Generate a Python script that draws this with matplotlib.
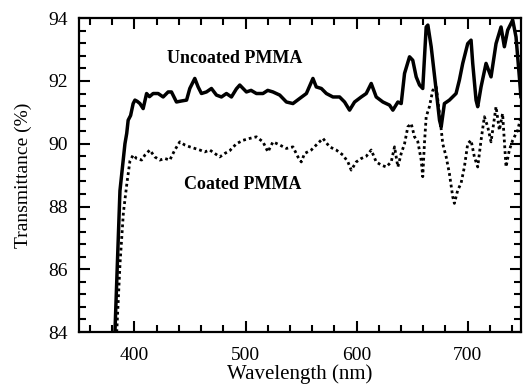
import matplotlib
matplotlib.use("Agg")
import matplotlib.pyplot as plt
from matplotlib.ticker import MultipleLocator

plt.rcParams['font.family'] = ['Liberation Serif', 'DejaVu Serif']

wl_uncoated = [382.4, 386.9, 391.4, 393.0, 394.3, 396.5, 398.8, 400.4, 402.5, 404.9,
               407.8, 410.9, 413.5, 416.8, 421.3, 425.8, 430.3, 433.3, 437.8, 442.0,
               446.9, 449.8, 454.3, 457.3, 460.3, 464.8, 469.3, 473.8, 478.3, 482.8,
               487.3, 491.8, 494.8, 500.8, 505.0, 509.8, 515.7, 520.0, 524.7, 530.8,
               536.8, 542.7, 548.7, 554.8, 560.7, 563.7, 568.3, 572.8, 578.7, 584.7,
               589.2, 593.7, 598.2, 604.2, 608.7, 613.2, 617.7, 623.7, 629.7, 632.7,
               637.2, 640.2, 643.2, 647.7, 650.6, 653.7, 656.7, 659.6, 662.7, 664.2,
               667.2, 671.7, 674.7, 676.2, 679.1, 683.6, 689.6, 692.6, 695.6, 700.1,
               703.1, 704.6, 707.6, 709.1, 712.1, 716.6, 721.1, 725.6, 730.1, 733.1,
               736.1, 740.6, 743.6, 746.6, 748.0]
t_uncoated = [84.0, 88.5, 90.0, 90.33, 90.75, 90.9, 91.28, 91.39, 91.35, 91.28,
              91.12, 91.6, 91.5, 91.6, 91.6, 91.49, 91.65, 91.65, 91.33, 91.36,
              91.39, 91.76, 92.08, 91.81, 91.6, 91.65, 91.76, 91.55, 91.49, 91.6,
              91.49, 91.75, 91.87, 91.65, 91.7, 91.6, 91.6, 91.7, 91.65, 91.55,
              91.33, 91.28, 91.44, 91.6, 92.08, 91.81, 91.76, 91.6, 91.49, 91.49,
              91.33, 91.07, 91.33, 91.49, 91.6, 91.92, 91.49, 91.33, 91.23, 91.07,
              91.33, 91.28, 92.24, 92.77, 92.66, 92.13, 91.87, 91.76, 93.72, 93.78,
              93.09, 91.7, 90.75, 90.54, 91.28, 91.39, 91.6, 92.03, 92.56, 93.19,
              93.3, 92.56, 91.39, 91.18, 91.81, 92.56, 92.13, 93.19, 93.72, 93.09,
              93.62, 93.94, 93.4, 92.13, 91.5]

wl_coated = [384.0, 387.0, 390.0, 393.2, 395.9, 398.8, 401.9, 406.4, 409.4, 413.8,
             418.3, 422.8, 427.3, 431.8, 436.3, 440.8, 445.3, 449.8, 454.3, 458.8,
             463.3, 467.8, 472.3, 476.8, 481.3, 485.8, 491.8, 497.8, 503.8, 509.8,
             515.7, 520.2, 524.7, 530.8, 536.8, 542.7, 547.2, 550.2, 553.2, 559.2,
             563.7, 569.7, 575.7, 581.7, 587.7, 592.2, 595.2, 599.7, 604.2, 608.7,
             613.2, 617.7, 622.2, 626.7, 631.2, 634.2, 637.2, 640.2, 643.2, 646.2,
             649.2, 652.2, 655.2, 658.2, 659.6, 661.1, 662.7, 665.6, 668.6, 671.7,
             674.7, 677.6, 680.7, 683.6, 686.6, 688.1, 691.1, 694.1, 697.1, 700.1,
             703.1, 706.1, 709.1, 712.1, 715.1, 718.1, 721.1, 725.6, 728.6, 731.5,
             734.6, 737.6, 740.6, 745.1, 748.0]
t_coated = [84.0, 86.2, 87.8, 88.75, 89.45, 89.64, 89.53, 89.48, 89.64, 89.8,
            89.58, 89.48, 89.53, 89.48, 89.8, 90.06, 89.96, 89.9, 89.85, 89.8,
            89.74, 89.8, 89.69, 89.58, 89.69, 89.78, 90.0, 90.11, 90.17, 90.22,
            90.06, 89.74, 90.06, 89.96, 89.85, 89.9, 89.58, 89.42, 89.69, 89.8,
            89.96, 90.17, 89.9, 89.8, 89.64, 89.42, 89.16, 89.42, 89.53, 89.6,
            89.8, 89.42, 89.32, 89.26, 89.42, 89.9, 89.26, 89.69, 90.0, 90.54,
            90.64, 90.22, 90.06, 89.48, 88.95, 90.0, 90.86, 91.18, 91.7, 91.81,
            90.96, 90.0, 89.58, 89.05, 88.31, 88.1, 88.52, 88.74, 89.26, 90.0,
            90.11, 89.58, 89.26, 90.11, 90.86, 90.54, 90.06, 91.18, 90.43, 90.96,
            89.26, 89.8, 90.11, 90.43, 90.86]

labels = ["Uncoated PMMA", "Coated PMMA"]

fig = plt.figure(figsize=(5.23, 3.87), dpi=100)
ax = fig.add_axes([0.151, 0.142, 0.845, 0.811])

ax.plot(wl_uncoated, t_uncoated, color='black', lw=2.5, solid_joinstyle='round')
ax.plot(wl_coated, t_coated, color='black', lw=2.0, linestyle=(0, (1, 1.1)))

ax.set_xlim(350, 748)
ax.set_ylim(84, 94)
ax.xaxis.set_major_locator(MultipleLocator(100))
ax.xaxis.set_minor_locator(MultipleLocator(20))
ax.yaxis.set_major_locator(MultipleLocator(2))
ax.yaxis.set_minor_locator(MultipleLocator(0.4))
ax.tick_params(which='both', direction='in', top=True, right=True, width=1.5, colors='black')
ax.tick_params(axis='x', which='major', length=8, pad=11, labelsize=14)
ax.tick_params(axis='x', which='minor', length=5)
ax.tick_params(axis='y', which='major', length=8, pad=8, labelsize=14)
ax.tick_params(axis='y', which='minor', length=5)
for s in ax.spines.values():
    s.set_linewidth(1.6)

ax.set_xlabel("Wavelength (nm)", fontsize=15, labelpad=0)
ax.set_ylabel("Transmittance (%)", fontsize=14, labelpad=12)

ax.text(490, 92.73, labels[0], fontsize=13, fontweight='bold', ha='center', va='center')
ax.text(497, 88.71, labels[1], fontsize=13, fontweight='bold', ha='center', va='center')

fig.savefig("out.png", dpi=100)
